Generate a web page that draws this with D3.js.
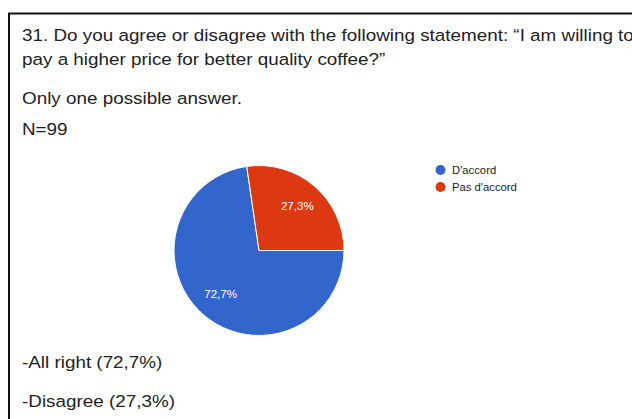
<!DOCTYPE html>
<html>
<head>
<meta charset="utf-8">
<script src="https://cdn.jsdelivr.net/npm/d3@7"></script>
<style>
  html, body { margin: 0; padding: 0; background: #fff; }
  svg { display: block; }
</style>
</head>
<body>
<svg id="chart" width="632" height="419"></svg>
<script>
// Survey answers (share of respondents, %)
const categories = ["D'accord", "Pas d'accord"];
const shares = [72.7, 27.3];
const colors = ["#3366cc", "#dc3912"];

const titleLines = [
  "31. Do you agree or disagree with the following statement: \u201cI am willing to",
  "pay a higher price for better quality coffee?\u201d"
];
const noteLines = ["Only one possible answer.", "N=99"];
const summaryLines = ["-All right (72,7%)", "-Disagree (27,3%)"];

const fmt = v => d3.format(".1f")(v).replace(".", ",") + "%";

const svg = d3.select("#chart");
const font = "'Liberation Sans', Arial, sans-serif";
const stretch = 1.13; // the typeface here runs a little wide

// Frame around the question block
svg.append("path")
  .attr("d", "M9,419 V13.5 H632")
  .attr("fill", "none")
  .attr("stroke", "#111")
  .attr("stroke-width", 2);

// Text placed at (x, y), widened horizontally around its anchor
function addText(parent, str, x, y, size, opts = {}) {
  return parent.append("text")
    .attr("transform", `translate(${x},${y}) scale(${stretch},1)`)
    .attr("text-anchor", opts.anchor || "start")
    .attr("dy", opts.dy || null)
    .attr("font-family", font).attr("font-size", size)
    .attr("fill", opts.fill || "#222").text(str);
}

addText(svg, titleLines[0], 22, 41, 16.7);
addText(svg, titleLines[1], 22, 65, 16.7);
addText(svg, noteLines[0], 22, 104, 16.7);
addText(svg, noteLines[1], 22, 135, 16.7);
addText(svg, summaryLines[0], 22, 368, 16.7);
addText(svg, summaryLines[1], 22, 407, 16.7);

// Pie
const cx = 259, cy = 250.5, r = 85;
const pie = d3.pie().sort(null)
  .startAngle(Math.PI / 2)
  .endAngle(Math.PI / 2 + 2 * Math.PI);
const arcs = pie(shares);
const arc = d3.arc().innerRadius(0).outerRadius(r);
const labelArc = d3.arc().innerRadius(r * 0.69).outerRadius(r * 0.69);

const g = svg.append("g").attr("transform", `translate(${cx},${cy})`);
g.selectAll("path.slice").data(arcs).join("path")
  .attr("class", "slice")
  .attr("d", arc)
  .attr("fill", (d, i) => colors[i])
  .attr("stroke", "#fff")
  .attr("stroke-width", 1);

arcs.forEach(d => {
  const [lx, ly] = labelArc.centroid(d);
  addText(g, fmt(d.data), lx, ly, 10.3, { anchor: "middle", dy: "0.35em", fill: "#fff" });
});

// Legend
const legend = svg.append("g").attr("transform", "translate(440.5,170)");
categories.forEach((c, i) => {
  const item = legend.append("g").attr("transform", `translate(0,${i * 17})`);
  item.append("circle").attr("r", 5).attr("fill", colors[i]);
  addText(item, c, 11.5, 0, 10, { dy: "0.35em", fill: "#222" });
});
</script>
</body>
</html>
